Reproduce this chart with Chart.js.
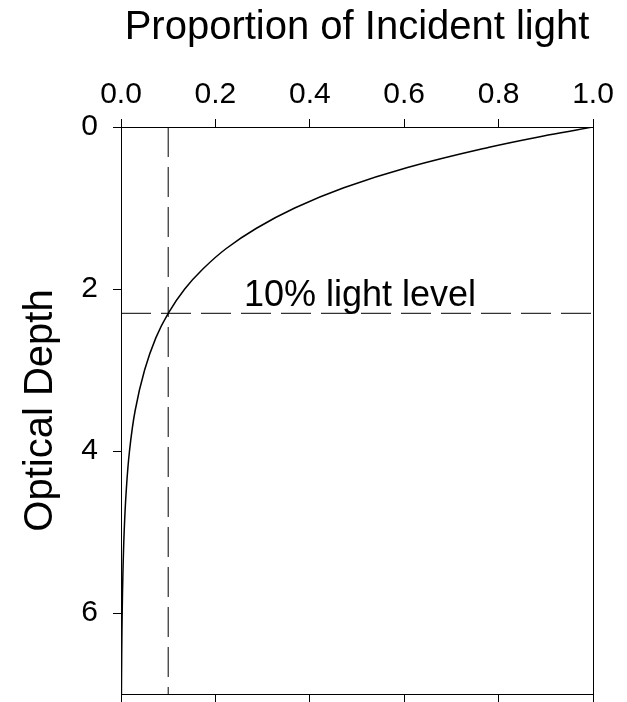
<!DOCTYPE html>
<html>
<head>
<meta charset="utf-8">
<script src="https://cdn.jsdelivr.net/npm/chart.js@4"></script>
<style>
    html, body { margin: 0; padding: 0; background: #fff; }
    #wrap { width: 627px; height: 702px; position: relative; }
</style>
</head>
<body>
<div id="wrap"><canvas id="light-chart"></canvas></div>
<script>
// values
const depths = [0, 0.1, 0.25, 0.5, 0.75, 1, 1.25, 1.5, 1.75, 2, 2.3, 2.6, 3, 3.5, 4, 4.5, 5, 5.5, 6, 6.5, 7];
const lightProportion = [1.0, 0.905, 0.78, 0.607, 0.472, 0.368, 0.287, 0.223, 0.174, 0.135, 0.100, 0.074, 0.050, 0.030, 0.018, 0.011, 0.0067, 0.0041, 0.0025, 0.0015, 0.0009];

const tenPercentLevel = 0.1;
const tenPercentDepth = 2.3;
const xTicks = [0, 0.2, 0.4, 0.6, 0.8, 1.0];
const yTicks = [0, 2, 4, 6];
const annotationText = '10% light level';

const FONT = '"Liberation Sans", Arial, sans-serif';

// =====================
// PLUGIN: text label
// =====================

const labelPlugin = {
    id: 'levelLabel',
    afterDatasetsDraw(chart) {
        const ctx = chart.ctx;
        const x = chart.scales.x.getPixelForValue(0.5);
        const y = chart.scales.y.getPixelForValue(tenPercentDepth);
        ctx.save();
        ctx.font = '36px ' + FONT;
        ctx.fillStyle = '#000';
        ctx.textAlign = 'center';
        ctx.textBaseline = 'alphabetic';
        ctx.fillText(annotationText, x + 3, y - 7);
        ctx.restore();
    },
};

// force exact axis box sizes, no label overhang padding
function fixSize(prop, value) {
    return (scale) => {
        scale[prop] = value;
        scale.paddingTop = 0;
        scale.paddingBottom = 0;
        scale.paddingLeft = 0;
        scale.paddingRight = 0;
    };
}

const curve = depths.map((d, i) => ({ x: lightProportion[i], y: d }));

new Chart(document.getElementById('light-chart'), {
    type: 'scatter',
    data: {
        datasets: [
            {
                data: curve,
                showLine: true,
                borderColor: '#000',
                borderWidth: 1.5,
                pointRadius: 0,
                tension: 0.4,
                xAxisID: 'x',
                yAxisID: 'y',
            },
            {
                data: [{ x: tenPercentLevel, y: 0 }, { x: tenPercentLevel, y: 7 }],
                showLine: true,
                borderColor: '#000',
                borderWidth: 1,
                borderDash: [30, 10],
                pointRadius: 0,
                xAxisID: 'x',
                yAxisID: 'y',
            },
            {
                data: [{ x: 0, y: tenPercentDepth }, { x: 1, y: tenPercentDepth }],
                showLine: true,
                borderColor: '#000',
                borderWidth: 1,
                borderDash: [30, 10],
                pointRadius: 0,
                xAxisID: 'x',
                yAxisID: 'y',
            },
        ],
    },
    options: {
        responsive: true,
        maintainAspectRatio: false,
        animation: false,
        layout: { padding: 0 },
        plugins: {
            legend: { display: false },
            tooltip: { enabled: false },
        },
        scales: {
            x: {
                type: 'linear',
                position: 'top',
                min: 0,
                max: 1,
                afterBuildTicks: (s) => { s.ticks = xTicks.map(v => ({ value: v })); },
                ticks: {
                    color: '#000',
                    font: { size: 30, family: FONT },
                    padding: 6,
                    maxRotation: 0,
                    callback: (v) => v.toFixed(1),
                },
                grid: { drawOnChartArea: false, tickLength: 8, color: '#000' },
                border: { color: '#000', width: 1 },
                title: {
                    display: true,
                    text: 'Proportion of Incident light',
                    color: '#000',
                    font: { size: 40, family: FONT },
                    padding: { top: 4, bottom: 0 },
                },
                afterFit: fixSize('height', 127),
            },
            x2: {
                type: 'linear',
                position: 'bottom',
                min: 0,
                max: 1,
                afterBuildTicks: (s) => { s.ticks = xTicks.map(v => ({ value: v })); },
                ticks: { display: false },
                grid: { drawOnChartArea: false, tickLength: 8, color: '#000' },
                border: { color: '#000', width: 1 },
                afterFit: fixSize('height', 8),
            },
            y: {
                type: 'linear',
                position: 'left',
                reverse: true,
                min: 0,
                max: 7,
                afterBuildTicks: (s) => { s.ticks = yTicks.map(v => ({ value: v })); },
                ticks: {
                    color: '#000',
                    font: { size: 30, family: FONT },
                    padding: 15,
                },
                grid: { drawOnChartArea: false, tickLength: 8, color: '#000' },
                border: { color: '#000', width: 1 },
                title: {
                    display: true,
                    text: 'Optical Depth',
                    color: '#000',
                    font: { size: 40, family: FONT },
                    padding: { top: 17, bottom: 0 },
                },
                afterFit: fixSize('width', 121),
            },
            y2: {
                type: 'linear',
                position: 'right',
                reverse: true,
                min: 0,
                max: 7,
                ticks: { display: false },
                grid: { display: false },
                border: { color: '#000', width: 1 },
                afterFit: fixSize('width', 34),
            },
        },
    },
    plugins: [labelPlugin],
});
</script>
</body>
</html>
